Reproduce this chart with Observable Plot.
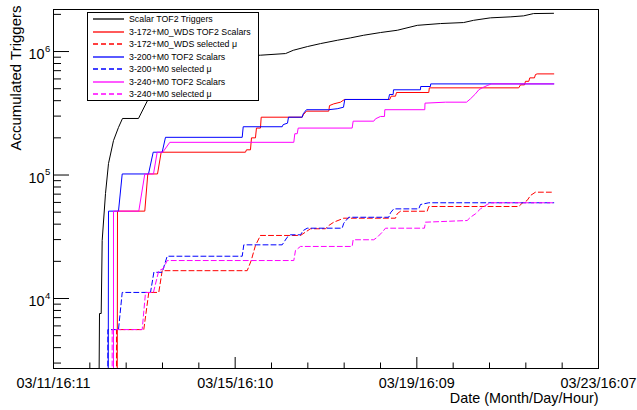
<!DOCTYPE html>
<html>
<head>
<meta charset="utf-8">
<script src="https://cdn.jsdelivr.net/npm/d3@7"></script>
<script src="https://cdn.jsdelivr.net/npm/@observablehq/plot@0.6"></script>
<style>
  html, body { margin: 0; padding: 0; background: #fff; }
  #wrap { position: relative; width: 637px; height: 410px; font-family: "Liberation Sans", Arial, Helvetica, sans-serif; }
  #legend { position: absolute; left: 87px; top: 12px; width: 172px; height: 89px; border: 1px solid #000; background: #fff; box-sizing: border-box; }
  .row { position: absolute; left: 0; height: 13px; width: 100%; }
  .row svg { position: absolute; left: 5px; top: 0; display: block; }
  .row span { position: absolute; left: 41px; top: 0; line-height: 13px; font-size: 8.8px; color: #000; white-space: nowrap; }
</style>
</head>
<body>
<div id="wrap"></div>
<script>
// x values: days since 03/11 16:11 ; y values: accumulated triggers
const scalarTriggers = [[0.997,1000],[1.013,7560],[1.050,7560],[1.072,29500],[1.145,70900],[1.211,124000],[1.321,190000],[1.431,243000],[1.519,287000],[1.871,287000],[2.070,401000],[2.136,483000],[2.36,640000],[2.69,771000],[3.02,860000],[3.5,900000],[4.56,934000],[5.11,963000],[5.28,1024000],[5.59,1097000],[5.88,1160000],[6.25,1234000],[6.54,1290000],[6.83,1355000],[7.20,1425000],[7.57,1487000],[8.01,1630000],[8.52,1685000],[9.03,1717000],[9.25,1790000],[9.62,1874000],[10.07,1910000],[10.35,1945000],[10.57,2030000],[11.01,2040000]];

const wds172Scalars = [[1.402,1000],[1.409,51000],[2.010,51000],[2.076,102000],[2.290,102000],[2.371,153000],[4.227,153000],[4.249,160000],[4.337,160000],[4.359,200000],[4.447,200000],[4.469,240000],[4.557,240000],[4.573,294000],[5.476,294000],[5.498,307000],[5.570,329000],[6.061,329000],[6.077,365000],[6.171,377000],[6.319,389000],[6.407,409000],[7.404,409000],[7.435,435000],[7.530,435000],[7.552,466000],[8.263,466000],[8.275,508000],[10.244,508000],[10.282,537000],[10.370,537000],[10.392,574000],[10.465,574000],[10.487,612000],[10.590,612000],[10.612,651000],[10.649,659000],[11.015,659000]];

const wds172Selected = [[1.387,1000],[1.387,5600],[1.988,5600],[2.098,11200],[2.318,11200],[2.393,16800],[4.265,16800],[4.353,20300],[4.447,26900],[4.557,32400],[5.438,32400],[5.658,36700],[5.989,36700],[6.061,39000],[6.171,41500],[6.391,44700],[7.530,44700],[7.567,48500],[7.640,50900],[8.228,50900],[8.263,55600],[10.244,55600],[10.319,59100],[10.429,62200],[10.502,68300],[10.612,72600],[11.015,72600]];

const m200Scalars = [[1.204,1000],[1.211,51000],[1.431,51000],[1.513,102000],[2.092,102000],[2.195,153000],[2.393,153000],[2.466,202000],[4.155,202000],[4.177,246000],[5.035,246000],[5.057,256000],[5.152,263000],[5.174,294000],[5.476,294000],[5.498,313000],[5.570,338000],[6.055,338000],[6.246,344000],[6.385,354000],[6.413,409000],[7.376,409000],[7.398,449000],[7.479,449000],[7.486,490000],[8.080,490000],[8.085,521000],[8.300,521000],[8.305,547000],[11.015,547000]];

const m200Selected = [[1.196,1000],[1.196,5600],[1.431,5600],[1.513,11200],[2.136,11200],[2.210,16300],[2.393,16300],[2.503,22000],[4.155,22000],[4.190,27200],[5.035,27200],[5.145,31300],[5.218,32800],[5.438,32800],[5.498,35500],[5.586,37100],[6.356,37100],[6.391,40700],[6.501,45500],[7.382,45500],[7.420,49400],[7.492,53200],[8.043,53200],[8.080,57700],[8.263,59600],[11.015,59600]];

const m240Scalars = [[1.321,1000],[1.321,51000],[1.878,51000],[2.010,102000],[2.202,102000],[2.283,153000],[2.406,153000],[2.561,184000],[5.291,184000],[5.313,216000],[5.366,216000],[5.388,240000],[6.576,240000],[6.598,273000],[7.052,273000],[7.089,285000],[7.199,298000],[7.288,298000],[7.295,338000],[8.175,338000],[8.180,382000],[8.631,389000],[9.093,389000],[9.181,414000],[9.291,454000],[9.364,490000],[9.438,508000],[9.548,530000],[9.643,547000],[11.015,547000]];

const m240Selected = [[1.292,1000],[1.292,5600],[1.953,5600],[2.026,11200],[2.200,11200],[2.318,16800],[2.420,17500],[2.503,20300],[5.291,20300],[5.328,24500],[5.438,26400],[6.576,26400],[6.598,29900],[7.052,29900],[7.127,31300],[7.237,34400],[7.310,37100],[8.168,37100],[8.190,41500],[9.108,42800],[9.181,45500],[9.291,48500],[9.401,53200],[9.548,57700],[9.621,59600],[11.015,59600]];

const seriesNames = ["Scalar TOF2 Triggers","3-172+M0_WDS TOF2 Scalars","3-172+M0_WDS selected \u03bc","3-200+M0 TOF2 Scalars","3-200+M0 selected \u03bc","3-240+M0 TOF2 Scalars","3-240+M0 selected \u03bc"];
const seriesData = [scalarTriggers, wds172Scalars, wds172Selected, m200Scalars, m200Selected, m240Scalars, m240Selected];

const xMajorTicks = [0, 4, 8, 12];
const xTickLabels = ["03/11/16:11", "03/15/16:10", "03/19/16:09", "03/23/16:07"];
const xMinorTicks = [0.8, 1.6, 2.4, 3.2, 4.8, 5.6, 6.4, 7.2, 8.8, 9.6, 10.4, 11.2];
const yMajorTicks = [1e4, 1e5, 1e6];
const yTickExponents = ["4", "5", "6"];
const yMinorTicks = [3e3,4e3,5e3,6e3,7e3,8e3,9e3,2e4,3e4,4e4,5e4,6e4,7e4,8e4,9e4,2e5,3e5,4e5,5e5,6e5,7e5,8e5,9e5,2e6];

// styles (kept apart from the data)
const colors = ["#000000","#ff0000","#ff0000","#0000ff","#0000ff","#ff00ff","#ff00ff"];
const dashes = [null, null, "5,3", null, "5,3", null, "5,3"];

const W = 637, H = 410, mL = 53, mR = 39, mT = 9, mB = 42;
const pw = W - mL - mR, ph = H - mT - mB;
const fs = 14.4;

const lineMarks = seriesData.map((data, i) => Plot.line(data, {
  x: d => d[0], y: d => d[1], stroke: colors[i], strokeWidth: 1,
  strokeDasharray: dashes[i] || undefined, clip: true
}));

const chart = Plot.plot({
  width: W, height: H,
  marginLeft: mL, marginRight: mR, marginTop: mT, marginBottom: mB,
  style: { fontFamily: "'Liberation Sans', Arial, Helvetica, sans-serif", fontSize: fs + "px", background: "#fff", color: "#000" },
  x: { domain: [0, 12], axis: null },
  y: { type: "log", domain: [2711, 2.19e6], axis: null },
  marks: [
    ...lineMarks,
    Plot.ruleX(xMajorTicks, { x: d => d, insetTop: ph - 11, stroke: "#000" }),
    Plot.ruleX(xMinorTicks, { x: d => d, insetTop: ph - 5.5, stroke: "#000" }),
    Plot.ruleY(yMajorTicks, { y: d => d, insetRight: pw - 16, stroke: "#000" }),
    Plot.ruleY(yMinorTicks, { y: d => d, insetRight: pw - 8, stroke: "#000" }),
    Plot.frame({ stroke: "#000", strokeWidth: 1 }),
    Plot.axisX({ ticks: xMajorTicks, tickFormat: d => xTickLabels[xMajorTicks.indexOf(d)], tickSize: 0, tickPadding: 9, label: null, fontSize: fs }),
    Plot.text(yMajorTicks, { y: d => d, frameAnchor: "left", text: () => "10", textAnchor: "end", dx: -9, dy: 3, fontSize: fs }),
    Plot.text(yMajorTicks, { y: d => d, frameAnchor: "left", text: d => yTickExponents[yMajorTicks.indexOf(d)], textAnchor: "start", dx: -8.5, dy: -3, fontSize: 9.5 }),
    Plot.text(["Date (Month/Day/Hour)"], { frameAnchor: "bottom-right", textAnchor: "end", dy: 34, fontSize: fs }),
    Plot.text(["Accumulated Triggers"], { frameAnchor: "top-left", rotate: -90, textAnchor: "end", dx: -43, dy: -4, fontSize: 15 })
  ]
});

const wrap = document.getElementById("wrap");
wrap.appendChild(chart);

const legend = document.createElement("div");
legend.id = "legend";
seriesNames.forEach((name, i) => {
  const row = document.createElement("div");
  row.className = "row";
  row.style.top = Math.round(i * 12.5) + "px";
  const dash = dashes[i] ? ` stroke-dasharray="${dashes[i]}"` : "";
  row.innerHTML = `<svg width="31" height="13"><line x1="0" x2="31" y1="6" y2="6" stroke="${colors[i]}" stroke-width="1.3"${dash}/></svg><span></span>`;
  row.querySelector("span").textContent = name;
  legend.appendChild(row);
});
wrap.appendChild(legend);
</script>
</body>
</html>
